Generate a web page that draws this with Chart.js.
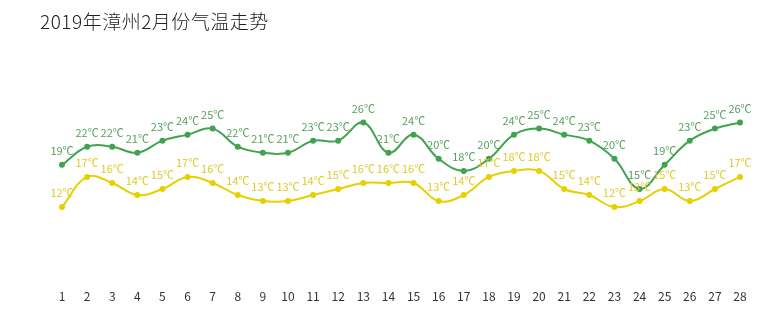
<!DOCTYPE html>
<html>
<head>
<meta charset="utf-8">
<script src="https://cdn.jsdelivr.net/npm/chart.js@4/dist/chart.umd.min.js"></script>
<style>
  html, body { margin: 0; padding: 0; background: #fff; }
  #wrap { position: relative; width: 764px; height: 328px; }
  #title { position: absolute; left: 40px; top: 7px; line-height: 26px; font: 300 19px "Noto Sans CJK SC", sans-serif; color: #222; letter-spacing: 0.5px; }
</style>
</head>
<body>
<div id="wrap">
  <div id="title">2019年漳州2月份气温走势</div>
  <canvas id="myChart" width="764" height="328"></canvas>
</div>
<script>
var days = ['1','2','3','4','5','6','7','8','9','10','11','12','13','14','15','16','17','18','19','20','21','22','23','24','25','26','27','28'];
var highTemp = [19, 22, 22, 21, 23, 24, 25, 22, 21, 21, 23, 23, 26, 21, 24, 20, 18, 20, 24, 25, 24, 23, 20, 15, 19, 23, 25, 26];
var lowTemp = [12, 17, 16, 14, 15, 17, 16, 14, 13, 13, 14, 15, 16, 16, 16, 13, 14, 17, 18, 18, 15, 14, 12, 13, 15, 13, 15, 17];

// value labels above each point
var pointLabels = {
    id: 'pointLabels',
    afterDatasetsDraw: function(chart) {
        var ctx = chart.ctx;
        ctx.save();
        ctx.font = '11px "Noto Sans CJK SC", sans-serif';
        ctx.textAlign = 'center';
        ctx.textBaseline = 'middle';
        chart.data.datasets.forEach(function(ds, i) {
            var meta = chart.getDatasetMeta(i);
            ctx.fillStyle = ds.labelColor;
            meta.data.forEach(function(pt, j) {
                ctx.fillText(ds.data[j] + '℃', pt.x, pt.y - 14);
            });
        });
        ctx.restore();
    }
};

var ctx = document.getElementById('myChart');
var chart = new Chart(ctx, {
    type: 'line',
    data: {
        labels: days,
        datasets: [
            {
                label: '最高气温',
                data: highTemp,
                borderColor: '#41a34f',
                backgroundColor: '#41a34f',
                labelColor: '#55a05e',
                borderWidth: 2,
                pointRadius: 2,
                tension: 0.4,
                fill: false
            },
            {
                label: '最低气温',
                data: lowTemp,
                borderColor: '#e6d000',
                backgroundColor: '#e6d000',
                labelColor: '#e0c928',
                borderWidth: 2,
                pointRadius: 2,
                tension: 0.4,
                fill: false
            }
        ]
    },
    options: {
        responsive: false,
        animation: false,
        layout: { padding: { left: 62, right: 24, top: 38, bottom: 22 } },
        plugins: {
            legend: { display: false },
            tooltip: { enabled: false }
        },
        scales: {
            x: {
                grid: { display: false },
                border: { display: false },
                ticks: {
                    color: '#333',
                    font: { size: 12, family: '"Noto Sans CJK SC", sans-serif' },
                    maxRotation: 0,
                    autoSkip: false,
                    padding: 2
                }
            },
            y: {
                display: false,
                min: 0,
                max: 40
            }
        }
    },
    plugins: [pointLabels]
});
</script>
</body>
</html>
